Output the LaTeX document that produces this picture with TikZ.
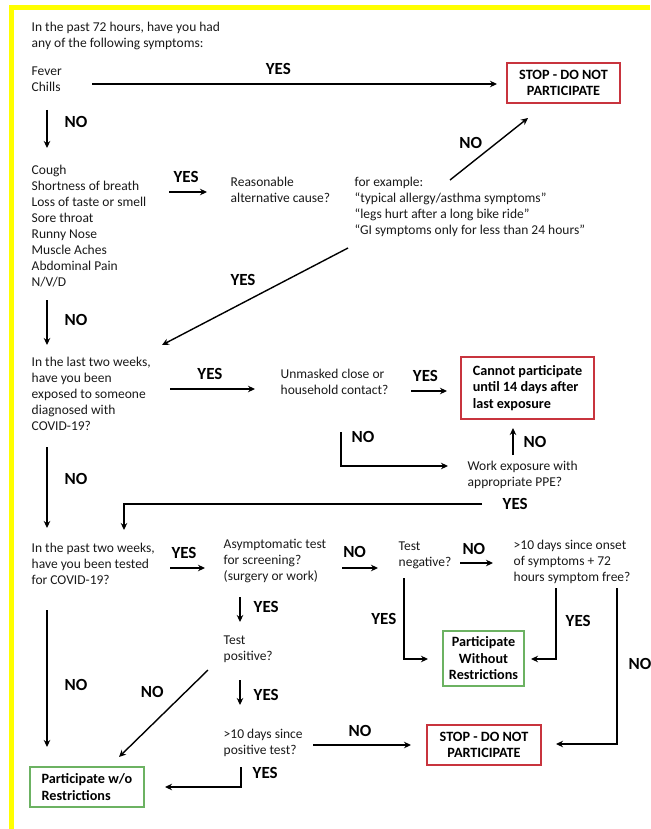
\documentclass[tikz,border=0pt]{standalone}
\usepackage{fontspec}
\setmainfont{Carlito}
\usepackage{tikz}
\usetikzlibrary{arrows.meta,positioning}
\definecolor{stopred}{RGB}{200,52,62}
\definecolor{gogreen}{RGB}{108,178,98}
\definecolor{marker}{RGB}{255,255,0}
\newcommand{\txtfont}{\fontsize{13.5}{16}\selectfont}
\newcommand{\lblfont}{\fontsize{17}{20}\selectfont\bfseries}
\newcommand{\boxfont}{\fontsize{14.2}{16.5}\selectfont\bfseries}

\begin{document}
\begin{tikzpicture}[
						x=1pt,
						y=-1pt,
						>={Stealth[length=7pt,width=6.5pt]},
						line width=1.4pt,
						txt/.style={anchor=north west, inner sep=0pt, align=left, font=\txtfont, text=black!90},
						lbl/.style={inner sep=0pt, font=\lblfont},
						redbox/.style={draw=stopred, line width=2pt, align=center, font=\boxfont, inner sep=0pt},
						greenbox/.style={draw=gogreen, line width=2pt, align=center, font=\boxfont, inner sep=0pt}
					]
					\useasboundingbox (0,0) rectangle (650,829);
					\fill[marker] (9,5) rectangle (650,10);
					\fill[marker] (9,5) rectangle (14,829);

					\node[txt] (hours) at (31,21.5) {In the past 72 hours, have you had\\any of the following symptoms:};
					\node[txt] (fever) at (31,66.5) {Fever\\Chills};
					\node[redbox, minimum width=113, minimum height=40] (stop1) at (563.5,83) {STOP - DO NOT\\PARTICIPATE};
					\node[txt] (symptoms) at (31,164.5) {Cough\\Shortness of breath\\Loss of taste or smell\\Sore throat\\Runny Nose\\Muscle Aches\\Abdominal Pain\\N/V/D};
					\node[txt] (reason) at (230,176.5) {Reasonable\\alternative cause?};
					\node[txt] (examples) at (354,176.5) {for example:\\``typical allergy/asthma symptoms''\\``legs hurt after a long bike ride''\\``GI symptoms only for less than 24 hours''};
					\node[txt] (exposed) at (31,356.5) {In the last two weeks,\\have you been\\exposed to someone\\diagnosed with\\COVID-19?};
					\node[txt] (unmasked) at (280,368.5) {Unmasked close or\\household contact?};
					\node[redbox, align=left, minimum width=133, minimum height=62] (cannot) at (527.5,388) {Cannot participate\\until 14 days after\\last exposure};
					\node[txt] (work) at (467,460.5) {Work exposure with\\appropriate PPE?};
					\node[txt] (tested) at (31,542.5) {In the past two weeks,\\have you been tested\\for COVID-19?};
					\node[txt] (asympt) at (223,538.5) {Asymptomatic test\\for screening?\\(surgery or work)};
					\node[txt] (testneg) at (398,541.5) {Test\\negative?};
					\node[txt] (tendays) at (513,539.5) {>10 days since onset\\of symptoms + 72\\hours symptom free?};
					\node[greenbox, minimum width=81, minimum height=55] (without) at (483.5,658.5) {Participate\\Without\\Restrictions};
					\node[txt] (testpos) at (223,635.5) {Test\\positive?};
					\node[txt] (posdays) at (223,728.5) {>10 days since\\positive test?};
					\node[redbox, minimum width=114, minimum height=40] (stop2) at (484,745) {STOP - DO NOT\\PARTICIPATE};
					\node[greenbox, align=left, minimum width=114, minimum height=40] (wo) at (87,787) {Participate w/o\\Restrictions};

					\draw[->] ([shift={(61,17.5)}]fever.north west) -- ++(405,0) node[lbl, pos=0.46, above=9pt] {YES};
					\draw[->] ([shift={(16,43.5)}]fever.north west) -- ++(0,38) node[lbl, pos=0.32, right=17pt] {NO};
					\draw[->] ([shift={(138,27.5)}]symptoms.north west) -- ++(38,0) node[lbl, pos=0.45, above=9pt] {YES};
					\draw[->] ([shift={(96,3.5)}]examples.north west) -- ++(78,-62) node[lbl, pos=0.6, left=14pt] {NO};
					\draw[->] ([shift={(-6,71.5)}]examples.north west) -- ++(-186,97) node[lbl, pos=0.5, xshift=-12pt, yshift=16.5pt] {YES};
					\draw[->] ([shift={(16,135.5)}]symptoms.north west) -- ++(0,45) node[lbl, pos=0.44, right=17pt] {NO};
					\draw[->] ([shift={(139,32.5)}]exposed.north west) -- ++(85,0) node[lbl, pos=0.47, above=9pt] {YES};
					\draw[->] ([shift={(131,22.5)}]unmasked.north west) -- ++(36,0) node[lbl, pos=0.4, above=9pt] {YES};
					\draw[->] ([shift={(61,63.5)}]unmasked.north west) -- ++(0,34) node[lbl, pos=0.15, right=10pt] {NO} -- ++(107,0);
					\draw[->] ([shift={(46,-5.5)}]work.north west) -- ++(0,-27) node[lbl, pos=0.5, right=10pt] {NO};
					\draw[->] ([shift={(15,43.5)}]work.north west) node[lbl, right=20pt] {YES} -- ++(-358,0) -- ++(0,26);
					\draw[->] ([shift={(16,90.5)}]exposed.north west) -- ++(0,81) node[lbl, pos=0.4, right=17pt] {NO};
					\draw[->] ([shift={(139,25.5)}]tested.north west) -- ++(35,0) node[lbl, pos=0.4, above=9pt] {YES};
					\draw[->] ([shift={(119,29.5)}]asympt.north west) -- ++(36,0) node[lbl, pos=0.35, above=10pt] {NO};
					\draw[->] ([shift={(62,21.5)}]testneg.north west) -- ++(33,0) node[lbl, pos=0.42, above=8pt] {NO};
					\draw[->] ([shift={(17,58.5)}]asympt.north west) -- ++(0,25) node[lbl, pos=0.4, right=13pt] {YES};
					\draw[->] ([shift={(17,44.5)}]testpos.north west) -- ++(0,25) node[lbl, pos=0.6, right=13pt] {YES};
					\draw[->] ([shift={(90,16.5)}]posdays.north west) -- ++(98,0) node[lbl, pos=0.48, above=8pt] {NO};
					\draw[->] ([shift={(18,38.5)}]posdays.north west) -- ++(0,20) node[lbl, pos=0.3, right=11pt] {YES} -- ++(-76,0);
					\draw[->] ([shift={(-15,34.5)}]testpos.north west) -- ++(-89,87) node[lbl, pos=0.3, xshift=-29pt, yshift=4pt] {NO};
					\draw[->] ([shift={(16,67.5)}]tested.north west) -- ++(0,137) node[lbl, pos=0.55, right=17pt] {NO};
					\draw[->] ([shift={(6,36.5)}]testneg.north west) -- ++(0,81) node[lbl, pos=0.5, left=7pt] {YES} -- ++(24,0);
					\draw[->] ([shift={(43,48.5)}]tendays.north west) -- ++(0,71) node[lbl, pos=0.47, right=9pt] {YES} -- ++(-25,0);
					\draw[->] ([shift={(104,48.5)}]tendays.north west) -- ++(0,156) node[lbl, pos=0.49, right=11pt] {NO} -- ++(-61,0);
				\end{tikzpicture}
\end{document}
